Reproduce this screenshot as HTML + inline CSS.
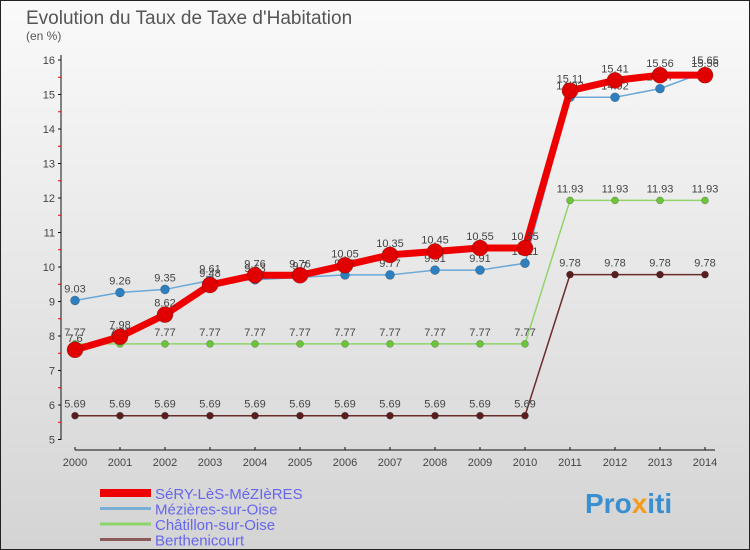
<!DOCTYPE html>
<html><head><meta charset="utf-8"><style>
body{margin:0;width:750px;height:550px;overflow:hidden}
svg{display:block;font-family:"Liberation Sans",sans-serif}
</style></head><body>
<svg id="chart" width="750" height="550" viewBox="0 0 750 550">
<defs><linearGradient id="bg" x1="0" y1="0" x2="0" y2="1"><stop offset="0" stop-color="#fafafa"/><stop offset="1" stop-color="#d4d4d4"/></linearGradient></defs>
<rect x="0.5" y="0.5" width="749" height="549" fill="url(#bg)" stroke="#222"/>
<text x="26" y="24" font-size="19" fill="#555">Evolution du Taux de Taxe d'Habitation</text>
<text x="26" y="40" font-size="12" fill="#555">(en %)</text>
<g id="axes"></g>
<g id="series"></g>
<g id="legend"></g>
<text x="585" y="513" font-size="28" font-weight="bold" fill="#3a8fd0">Pro<tspan fill="#f39c1f">x</tspan>iti</text>
</svg>
<script>
const years=[2000,2001,2002,2003,2004,2005,2006,2007,2008,2009,2010,2011,2012,2013,2014];
const yTicks=[5,6,7,8,9,10,11,12,13,14,15,16];
const names=["SéRY-LèS-MéZIèRES","Mézières-sur-Oise","Châtillon-sur-Oise","Berthenicourt"];
const sery=[7.6,7.98,8.62,9.48,9.76,9.76,10.05,10.35,10.45,10.55,10.55,15.11,15.41,15.56,15.56];
const mezieres=[9.03,9.26,9.35,9.61,9.63,9.7,9.77,9.77,9.91,9.91,10.11,14.92,14.92,15.17,15.65];
const chatillon=[7.77,7.77,7.77,7.77,7.77,7.77,7.77,7.77,7.77,7.77,7.77,11.93,11.93,11.93,11.93];
const berth=[5.69,5.69,5.69,5.69,5.69,5.69,5.69,5.69,5.69,5.69,5.69,9.78,9.78,9.78,9.78];
const NS="http://www.w3.org/2000/svg";
const X=i=>75+i*45;
const Y=v=>439.5-(v-5)*(379.5/11);
function mk(tag,attrs,parent,text){const e=document.createElementNS(NS,tag);for(const k in attrs)e.setAttribute(k,attrs[k]);if(text!=null)e.textContent=text;parent.appendChild(e);return e;}
const axes=document.getElementById('axes');
let ya=mk('line',{x1:61,y1:55,x2:61,y2:440,stroke:'#111'},axes);


let xa=mk('line',{x1:75,y1:450,x2:715,y2:450,stroke:'#111'},axes);


yTicks.forEach(t=>{
 mk('line',{x1:58,y1:Y(t),x2:61,y2:Y(t),stroke:'#111'},axes);
 if(t<16)mk('line',{x1:58,y1:Y(t+0.5),x2:61,y2:Y(t+0.5),stroke:'#e00'},axes);
 const l=mk('text',{x:55,y:Y(t)+4,'font-size':11,fill:'#444','text-anchor':'end'},axes,t);
 
 
});
years.forEach((yr,i)=>{
 mk('line',{x1:X(i),y1:447,x2:X(i),y2:450,stroke:'#111'},axes);
 const l=mk('text',{x:X(i),y:466,'font-size':11,fill:'#444','text-anchor':'middle'},axes,yr);
 
 
});
const sg=document.getElementById('series');
const defs=[[berth,'#6b2c2c','#5a1e1e',1.5,3.5,'berthenicourt'],[chatillon,'#8fd46a','#6cc43a',1.5,3.5,'chatillon-sur-oise'],[mezieres,'#6aa8d8','#2e7fbf',1.5,4.5,'mezieres-sur-oise'],[sery,'#ee0000','#e00000',7,8,'sery-les-mezieres']];
defs.forEach(([d,lc,pc,w,r,nm])=>{
 const g=mk('g',{},sg);
 
 
 const p=mk('polyline',{points:d.map((v,i)=>X(i)+','+Y(v)).join(' '),fill:'none',stroke:lc,'stroke-width':w,'stroke-linejoin':'round'},g);
 
 
 d.forEach((v,i)=>{
  const c=mk('circle',{cx:X(i),cy:Y(v),r:r,fill:pc,stroke:'rgba(0,0,0,0.3)','stroke-width':0.6},g);
  
  
  const t=mk('text',{x:X(i),y:Y(v)-8,'font-size':11,fill:'#444','text-anchor':'middle'},g,v);
  
  
 });
});
const lg=document.getElementById('legend');
const lcol=['#ee0000','#7aaed4','#8fd46a','#8b5a5a'];const lw=[8,3,3,3];
names.forEach((n,i)=>{
 const y=493+i*15.5;
 const g=mk('g',{},lg);
 
 
 mk('line',{x1:100,y1:y,x2:151,y2:y,stroke:lcol[i],'stroke-width':lw[i]},g);
 mk('text',{x:155,y:y+6,'font-size':15,fill:'#6666ee'},g,n);
});
</script>
</body></html>
